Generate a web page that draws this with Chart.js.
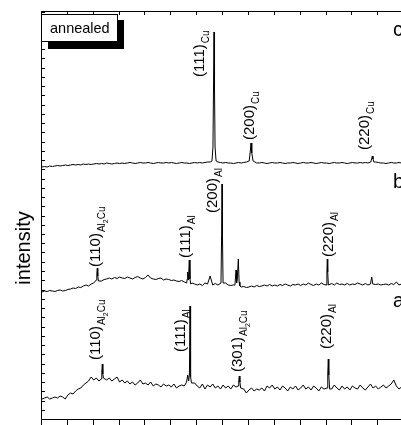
<!DOCTYPE html>
<html><head><meta charset="utf-8">
<script src="https://cdn.jsdelivr.net/npm/chart.js@4.4.0/dist/chart.umd.min.js"></script>
<style>
html,body{margin:0;padding:0;overflow:hidden;background:#fff;width:401px;height:425px}
#wrap{position:relative;width:430px;height:425px}
</style></head>
<body><div id="wrap"><canvas id="c" width="430" height="425"></canvas></div>
<script>
// 2-theta grid (degrees)
const angles = [10,10.5,11,11.5,12,12.5,13,13.5,14,14.5,15,15.5,16,16.5,17,17.5,18,18.5,19,19.5,
20,20.5,21,21.5,22,22.5,23,23.5,24,24.5,25,25.5,26,26.5,27,27.5,28,28.5,29,29.5,
30,30.5,31,31.5,32,32.5,33,33.5,34,34.5,35,35.5,36,36.5,37,37.5,38,38.5,39,39.5,
40,40.5,41,41.5,42,42.5,43,43.5,44,44.5,45,45.5,46,46.5,47,47.5,48,48.5,49,49.5,
50,50.5,51,51.5,52,52.5,53,53.5,54,54.5,55,55.5,56,56.5,57,57.5,58,58.5,59,59.5,
60,60.5,61,61.5,62,62.5,63,63.5,64,64.5,65,65.5,66,66.5,67,67.5,68,68.5,69,69.5,
70,70.5,71,71.5,72,72.5,73,73.5,74,74.5,75,75.5,76,76.5,77,77.5,78,78.5,79,79.5,
80,80.5,81,81.5,82,82.5,83,83.5,84,84.5,85];

// trace c (annealed, top)
const baseC = [252,252.5,252,253,252.5,253,253.5,253,253.5,254,
253.5,254,254.5,254,254.5,254,255,254.5,255,254.5,
255,255.5,255,255.5,255,256,255.5,255,255.5,256,
255.5,256,255.5,256,256.5,256,255.5,256,256.5,256,
256,256.5,256,255.5,256,256.5,256,256,256.5,256,
256.5,256,255.5,256,256.5,256,256,255.5,256,256.5,
256,256.5,256,256.5,257,257,258,258,257,256.5,
256,256.5,256,256,255.5,256,256.5,256,256.5,257,
258,258,256.5,256,256,256.5,256,255.5,256,256.5,
256,256,256.5,256,255.5,256,256,256.5,256,255.5,
256,256.5,256,256,256.5,256,255.5,256,256.5,256,
256,255.5,256,256.5,256,256,256.5,256,255.5,256,
256.5,256,256,256.5,256,256.5,256,257,257.5,257,
256.5,256,256,255.5,256,256.5,256,256,256.5,256,
256,256.5,256,255.5,256,256.5,256,256,256.5,256,
256];
const peakAngleC = [42.85,43.05,43.15,43.25,43.35,43.45,43.65, 50.05,50.25,50.4,50.55,50.8, 73.55,73.72,73.85,73.98,74.15];
const peakIntC   = [258,272,330,387,330,272,258, 258,267,276,266,258, 257,260,263,260,257];

// trace b (middle)
const baseB = [127,128,127.5,128.5,128,127.5,128.5,129,128,128.5,
129.5,130,131,130.5,132,131.5,133,134,133,135,
136,137,136,138,139.5,140,141,140,141.5,140.5,
142,141,140.5,142,141,140,141.5,142.5,141,140,
141.5,144,141,140,139.5,140.5,141,139,140,139.5,
138.5,139,138,137.5,138.5,137,136,135,136,135,
134,135,133.5,136,135,143,134,135.5,134,136,
135,136,134,133.5,134,135.5,133,132,132.5,131.5,
132,133,132,133.5,132.5,133,134,133,134.5,133,
134,133,134.5,133.5,135,134,133,134.5,134,135,
133.5,135,134,136,134.5,133.5,135,134,136,134.5,
135,134,135.5,134,136,134.5,135,134,135.5,134,
135,134.5,136,135,134,135.5,134,135,136,134.5,
135,134,134.5,135,134,135.5,134.5,137,134,135,
134,135.5,134.5,136,134,135,136,134.5,135,134,
135];
const peakAngleB = [20.5,20.6,20.69,20.78,20.9, 37.95,38.08,38.17,38.3,38.47,38.6,38.75,
  44.6,44.72,44.8,44.88,45.0, 47.3,47.5,47.62,47.75,47.95,48.1,48.25,
  64.95,65.07,65.15,65.23,65.35, 73.5,73.73,73.95];
const peakIntB = [139,145,151,143,138, 136,140,147,139,159,140,135,
  136,185,235,185,136, 134,149,136,140,160,137,133,
  134,147,160,147,134, 135,142,135];

// trace a (bottom)
const baseA = [20,21,22,20,21,22,21,23,22,20,
24,26,25,28,30,31,34,36,38,42,
39,41,38,40,43,39,41,38,40,42,
37,39,36,38,35,37,34,36,39,35,
36,34,37,33,35,34,32,35,33,34,
32,35,31,33,34,33,36,38,35,36,
33,31,35,30,34,32,35,31,33,30,
34,31,33,30,34,32,29,33,30,26,
29,31,28,30,29,31,28,33,31,34,
30,32,29,33,31,28,32,30,33,29,
31,34,30,32,29,33,31,28,32,30,
31,33,30,34,31,29,33,30,32,29,
33,31,30,34,31,29,32,35,31,33,
30,32,34,31,33,35,39,33,30,32,
34,31,33,35,32,34,31,33,35,32,
33];
const peakAngleA = [21.45,21.56,21.66,21.76,21.87, 37.95,38.17,38.35,38.5,38.61,38.72,38.9,
  47.9,48.03,48.14,48.25,48.4, 65.1,65.24,65.34,65.44,65.6];
const peakIntA = [40,47,55,45,41, 37,44,38,45,113,42,36,
  33,38,43,37,31, 31,45,60,44,30];

// axis ticks
const xTickAngles = [10,15,20,25,30,35,40,45,50,55,60,65,70,75,80,85];
const yTickStep = 9.25;

// reflection labels
const labelMain  = ['(111)','(200)','(220)','(110)','(111)','(200)','(220)','(110)','(111)','(301)','(220)'];
const labelSub   = ['Cu','Cu','Cu','Al2Cu','Al','Al','Al','Al2Cu','Al','Al2Cu','Al'];
const labelAngle = [40.3,49.85,72.25,20.25,37.65,42.85,65.3,20.25,36.65,47.7,64.85];
const labelLevel = [342,279,269,152,161,206,162,59,67,47,70];

const traceLetters = ['c','b','a'];
const letterAngle = [77.85,77.85,77.85];
const letterLevel = [383,231,112];

function merge(base, pa, pi){
  const pts = [];
  for (let i=0;i<angles.length;i++){
    if (pa.some(a => Math.abs(a-angles[i]) < 0.25)) continue;
    pts.push({x:angles[i], y:base[i]});
  }
  for (let j=0;j<pa.length;j++) pts.push({x:pa[j], y:pi[j]});
  pts.sort((p,q)=>p.x-q.x);
  return pts;
}

const FONT = '"Liberation Sans", Arial, Helvetica, sans-serif';

function subParts(s){
  const parts=[]; let cur='';
  for (const ch of s){
    if (/[0-9]/.test(ch)){ if(cur){parts.push({t:cur,size:10,dy:5});cur='';} parts.push({t:ch,size:7,dy:8}); }
    else cur+=ch;
  }
  if(cur) parts.push({t:cur,size:10,dy:5});
  return parts;
}

const decor = {
  id:'decor',
  afterDatasetsDraw(chart){
    const ctx = chart.ctx, a = chart.chartArea;
    const xs = chart.scales.x, ys = chart.scales.y;
    ctx.save();
    ctx.strokeStyle='#000'; ctx.fillStyle='#000'; ctx.lineWidth=1;
    // frame
    ctx.beginPath();
    ctx.moveTo(a.left-0.5, a.bottom+0.5); ctx.lineTo(a.left-0.5, a.top-0.5); ctx.lineTo(a.right, a.top-0.5);
    ctx.moveTo(a.left-0.5, a.bottom+0.5); ctx.lineTo(a.right, a.bottom+0.5);
    ctx.stroke();
    // x ticks: bottom outward, top inward
    ctx.beginPath();
    for (const t of xTickAngles){
      const px = Math.round(xs.getPixelForValue(t))-0.5;
      ctx.moveTo(px, a.bottom+0.5); ctx.lineTo(px, a.bottom+6);
      ctx.moveTo(px, a.top-0.5); ctx.lineTo(px, a.top+3);
    }
    // y ticks inward
    for (let v=0; v<=ys.max+0.01; v+=yTickStep){
      const py = Math.round(ys.getPixelForValue(v))+0.5;
      ctx.moveTo(a.left-0.5, py); ctx.lineTo(a.left+3, py);
    }
    ctx.stroke();
    // reflection labels (rotated)
    for (let i=0;i<labelMain.length;i++){
      const x = xs.getPixelForValue(labelAngle[i]);
      const y = ys.getPixelForValue(labelLevel[i]);
      ctx.save();
      ctx.translate(x,y); ctx.rotate(-Math.PI/2);
      ctx.textAlign='left'; ctx.textBaseline='alphabetic';
      ctx.font='15px '+FONT;
      const b=5.4;
      ctx.fillText(labelMain[i],0,b);
      let off = ctx.measureText(labelMain[i]).width+1;
      for (const p of subParts(labelSub[i])){
        ctx.font=p.size+'px '+FONT;
        ctx.fillText(p.t, off, b+p.dy);
        off += ctx.measureText(p.t).width;
      }
      ctx.restore();
    }
    // trace letters
    ctx.font='20px '+FONT; ctx.textAlign='left'; ctx.textBaseline='alphabetic';
    for (let i=0;i<traceLetters.length;i++){
      ctx.fillText(traceLetters[i], xs.getPixelForValue(letterAngle[i]), ys.getPixelForValue(letterLevel[i]));
    }
    // y title
    ctx.save();
    ctx.translate(29.5, 248); ctx.rotate(-Math.PI/2);
    ctx.textAlign='center'; ctx.font='20px '+FONT;
    ctx.fillText('intensity',0,0);
    ctx.restore();
    // annealed box with shadow
    ctx.fillStyle='#000'; ctx.fillRect(48,20,76,29);
    ctx.fillStyle='#fff'; ctx.fillRect(41,14,77,28);
    ctx.strokeStyle='#000'; ctx.strokeRect(41.5,14.5,76,27);
    ctx.fillStyle='#000'; ctx.font='14.5px '+FONT; ctx.textAlign='left';
    ctx.fillText('annealed',50,33);
    ctx.restore();
  }
};

const ds = (pts)=>({data:pts, borderColor:'#000', borderWidth:1, pointRadius:0, tension:0, fill:false});

new Chart(document.getElementById('c'), {
  type:'line',
  data:{datasets:[ ds(merge(baseC,peakAngleC,peakIntC)), ds(merge(baseB,peakAngleB,peakIntB)), ds(merge(baseA,peakAngleA,peakIntA)) ]},
  options:{
    responsive:false, animation:false, devicePixelRatio:1,
    layout:{padding:{left:42,top:12,right:0,bottom:6}},
    scales:{
      x:{type:'linear',min:10,max:85,display:false},
      y:{type:'linear',min:0,max:407,display:false}
    },
    plugins:{legend:{display:false},tooltip:{enabled:false}}
  },
  plugins:[decor]
});
</script>
</body></html>
